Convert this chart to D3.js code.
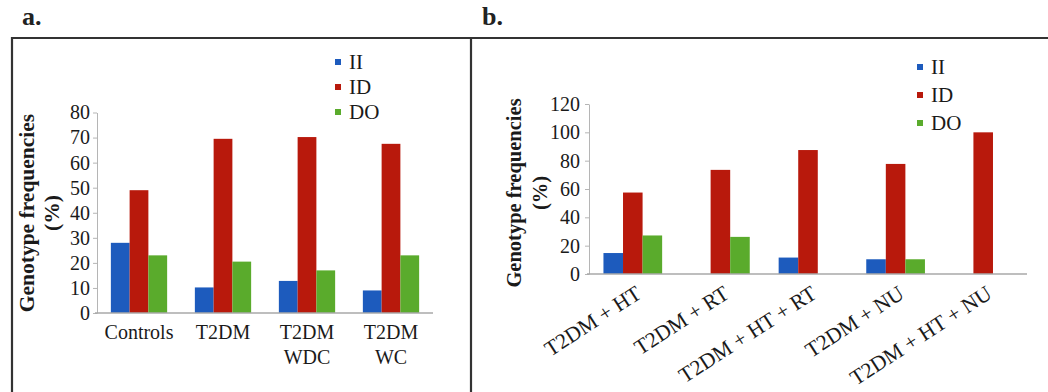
<!DOCTYPE html>
<html>
<head>
<meta charset="utf-8">
<script src="https://cdn.jsdelivr.net/npm/d3@7"></script>
<style>
  body { margin: 0; background: #fff; }
</style>
</head>
<body>
<div id="chart"></div>
<script>
// series names + colours
const seriesNames = ["II", "ID", "DO"];
const seriesColors = ["#1d5bbd", "#b8190c", "#5aab2c"];

// panel a
const catsA = [["Controls"], ["T2DM"], ["T2DM", "WDC"], ["T2DM", "WC"]];
const iiA = [28, 10.2, 12.8, 9];
const idA = [49, 69.5, 70.2, 67.5];
const doA = [23, 20.5, 17, 23];
const ticksA = [0, 10, 20, 30, 40, 50, 60, 70, 80];

// panel b
const catsB = ["T2DM + HT", "T2DM + RT", "T2DM + HT + RT", "T2DM + NU", "T2DM + HT + NU"];
const iiB = [14.8, 0, 11.6, 10.4, 0];
const idB = [57.5, 73.5, 87.5, 77.7, 100];
const doB = [27.2, 26.2, 0, 10.4, 0];
const ticksB = [0, 20, 40, 60, 80, 100, 120];

const FONT = "'Liberation Serif', 'Times New Roman', serif";
const W = 1048, H = 392;
const svg = d3.select("#chart").append("svg")
  .attr("width", W).attr("height", H);

// frame lines
svg.append("path")
  .attr("d", "M12,392V38H1048M471,38V392")
  .attr("fill", "none").attr("stroke", "#333").attr("stroke-width", 2.2);

svg.append("text").attr("x", 22).attr("y", 25).text("a.")
  .style("font-family", FONT).style("font-weight", "bold").style("font-size", "26px").attr("fill", "#222");
svg.append("text").attr("x", 482).attr("y", 25).text("b.")
  .style("font-family", FONT).style("font-weight", "bold").style("font-size", "26px").attr("fill", "#222");

function drawPanel(p) {
  const g = svg.append("g");
  const y = d3.scaleLinear().domain([0, p.ticks[p.ticks.length - 1]]).range([p.y0, p.y1]);
  const x0 = d3.scaleBand().domain(d3.range(p.values[0].length))
    .range([p.xStart, p.xEnd]).paddingInner(0.33).paddingOuter(0.165);
  const x1 = d3.scaleBand().domain(d3.range(seriesNames.length)).range([0, x0.bandwidth()]);

  // y axis
  const ya = g.append("g").attr("transform", "translate(" + p.xStart + ",0)")
    .call(d3.axisLeft(y).tickValues(p.ticks).tickSize(4).tickPadding(p.tickPad).tickSizeOuter(0));
  ya.select(".domain").attr("stroke", "#b5b5b5");
  ya.selectAll(".tick line").attr("stroke", "#b5b5b5");
  ya.selectAll(".tick text").style("font-family", FONT).style("font-size", "20px").attr("fill", "#1a1a1a");

  // bars
  p.values.forEach(function(vals, s) {
    g.selectAll(".bar" + s).data(vals).enter().append("rect")
      .attr("x", (d, i) => x0(i) + x1(s))
      .attr("width", x1.bandwidth())
      .attr("y", d => y(d))
      .attr("height", d => y(0) - y(d))
      .attr("fill", seriesColors[s]);
  });

  // x baseline
  g.append("line").attr("x1", p.xStart - 2).attr("x2", p.xEnd)
    .attr("y1", y(0)).attr("y2", y(0)).attr("stroke", "#a9a9a9").attr("stroke-width", 1.5);

  // category labels
  p.labels(g, x0);

  // y title
  const t = g.append("text")
    .attr("transform", "translate(" + p.titleX + "," + p.titleY + ") rotate(-90)")
    .attr("text-anchor", "middle").attr("fill", "#1a1a1a")
    .style("font-family", FONT).style("font-size", p.titleSize).style("font-weight", "bold");
  t.append("tspan").attr("x", 0).attr("dy", 0).text("Genotype frequencies");
  t.append("tspan").attr("x", 0).attr("dy", p.titleGap).text("(%)");

  // legend
  seriesNames.forEach(function(n, i) {
    const ly = p.legY + i * p.legStep;
    g.append("rect").attr("x", p.legX).attr("y", ly - 3).attr("width", 6).attr("height", 6)
      .attr("fill", seriesColors[i]);
    g.append("text").attr("x", p.legX + 14).attr("y", ly).attr("dy", "0.35em")
      .attr("fill", "#1a1a1a").style("font-family", FONT).style("font-size", "21px").text(n);
  });
}

drawPanel({
  values: [iiA, idA, doA], ticks: ticksA,
  xStart: 97, xEnd: 433, y0: 313, y1: 112.5, tickPad: 3,
  titleX: 34, titleY: 213, titleGap: 25, titleSize: "21.5px",
  legX: 335, legY: 62, legStep: 25,
  labels: function(g, x0) {
    catsA.forEach(function(lines, i) {
      const tx = g.append("text").attr("text-anchor", "middle").attr("fill", "#1a1a1a")
        .style("font-family", FONT).style("font-size", "20px");
      lines.forEach(function(l, k) {
        tx.append("tspan").attr("x", x0(i) + x0.bandwidth() / 2)
          .attr("y", 339 + k * 25).text(l);
      });
    });
  }
});

drawPanel({
  values: [iiB, idB, doB], ticks: ticksB,
  xStart: 589, xEnd: 1027, y0: 274, y1: 104, tickPad: 5,
  titleX: 521, titleY: 193, titleGap: 26, titleSize: "20.5px",
  legX: 917, legY: 67, legStep: 28,
  labels: function(g, x0) {
    g.selectAll(".xl").data(catsB).enter().append("text")
      .attr("text-anchor", "end").attr("fill", "#1a1a1a")
      .style("font-family", FONT).style("font-size", "21.5px")
      .attr("transform", (d, i) => "translate(" + (x0(i) + x0.bandwidth() / 2 + 10) + ",297) rotate(-33)")
      .text(d => d);
  }
});
</script>
</body>
</html>
